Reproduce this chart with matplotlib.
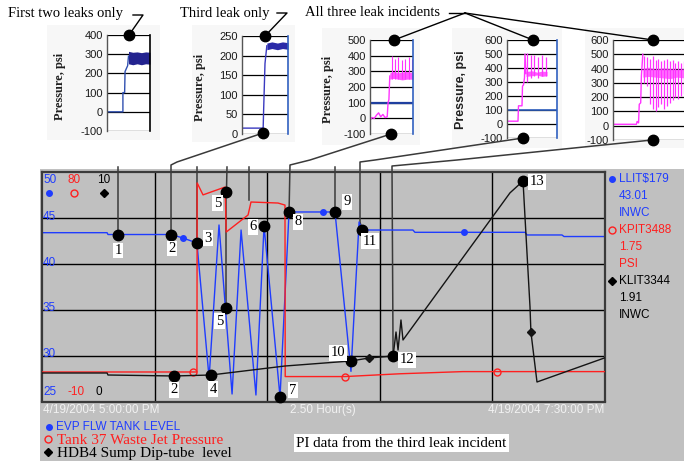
import numpy as np
import matplotlib
matplotlib.use("Agg")
import matplotlib.pyplot as plt
from matplotlib.patches import Rectangle
from matplotlib.lines import Line2D

W, H = 684, 461
SERIF = ["Liberation Serif", "DejaVu Serif"]
SANS = ["Liberation Sans", "DejaVu Sans"]
plt.rcParams["font.family"] = SANS
plt.rcParams["axes.unicode_minus"] = False

BLUE = "#1f3cff"
RED = "#ff1f1f"
MAG = "#ff33ff"
NAVY = "#23238f"

# ---------------- main PI trend (hours after 4/19/2004 5:00 PM) ----------------
blue_h = [0.0, 0.289, 0.293, 0.573, 0.626, 0.688, 0.742, 0.786, 0.844, 0.884, 0.950, 0.986,
          1.057, 1.097, 1.301, 1.372, 1.408, 1.421, 1.647, 1.656, 2.145, 2.154, 2.309, 2.318, 2.5]
blue_v = [43.43, 43.43, 43.23, 43.23, 42.85, 42.30, 27.57, 44.27, 25.82, 43.72, 25.71, 44.16,
          25.49, 45.69, 45.69, 28.29, 44.60, 43.72, 43.72, 43.47, 43.47, 43.18, 43.18, 43.01, 43.01]

red_h = [0.0, 0.688, 0.689, 0.715, 0.813, 0.818, 0.915, 0.928, 1.048, 1.079, 1.080, 1.345, 1.590, 1.869, 2.5]
red_v = [1.6, 1.6, 75.9, 71.2, 74.3, 56.6, 63.3, 68.4, 68.0, 67.2, -0.2, -0.2, 0.9, 1.75, 1.75]

black_h = [0.0, 0.289, 0.293, 0.586, 0.750, 1.079, 1.372, 1.452, 1.559, 1.572, 1.581, 1.594, 1.603,
           1.732, 2.078, 2.136, 2.145, 2.167, 2.171, 2.198, 2.5]
black_v = [1.245, 1.245, 1.157, 1.114, 1.157, 1.55, 1.769, 1.90, 1.987, 3.035, 2.249, 3.559, 2.686,
           4.432, 9.11, 9.63, 8.01, 4.127, 3.035, 0.852, 1.91]

blue_mark_h = [0.626, 1.248, 1.874]
red_mark_h = [0.671, 1.345, 2.02]
black_mark_h = [1.452, 2.171]

blue_range = (25, 50)
red_range = (-10, 80)
black_range = (0, 10)

# numbered incident call-outs on the trend
callout_labels = ["1", "2", "2", "3", "4", "5", "5", "6", "7", "8", "9", "10", "11", "12", "13"]
callout_series = ["b", "b", "k", "b", "k", "r", "b", "b", "b", "b", "b", "k", "b", "k", "k"]
callout_h = [0.3375, 0.573, 0.586, 0.688, 0.750, 0.819, 0.819, 0.986, 1.057, 1.097, 1.301, 1.372, 1.421, 1.559, 2.136]
callout_v = [43.23, 43.23, 1.114, 42.30, 1.157, 72.3, 35.2, 44.16, 25.49, 45.69, 45.69, 1.769, 43.72, 1.987, 9.63]

# ---------------- inset pressure traces (fraction of inset width) ----------------
ins1_t = [0, 0.37, 0.37, 0.41, 0.42, 0.45, 0.48, 0.50]
ins1_v = [0, 0, 100, 100, 210, 225, 240, 290]
ins1_bt = [0.50, 0.6, 0.7, 0.8, 0.9, 1.0]
ins1_lo = [250, 245, 250, 245, 250, 248]
ins1_hi = [315, 310, 312, 308, 312, 310]

ins2_t = [0, 0.46, 0.47, 0.50, 0.54]
ins2_v = [15, 15, 60, 180, 225]
ins2_bt = [0.54, 0.65, 0.77, 0.88, 1.0]
ins2_lo = [215, 218, 215, 218, 216]
ins2_hi = [232, 235, 232, 235, 233]

ins3_t = [0, 0.05, 0.1, 0.15, 0.2, 0.25, 0.3, 0.35, 0.4, 0.42, 0.44, 0.46]
ins3_v = [-10, 5, 0, 20, 35, 10, 25, 5, 10, 100, 120, 270]
ins3_bt = [0.46, 0.55, 0.65, 0.75, 0.85, 1.0]
ins3_lo = [250, 255, 250, 245, 250, 250]
ins3_hi = [290, 300, 290, 295, 300, 290]
ins3_st = [0.5, 0.58, 0.66, 0.74, 0.82, 0.9, 0.97]
ins3_top = [400, 380, 390, 370, 380, 390, 380]

ins4_t = [0, 0.22, 0.23, 0.30, 0.31, 0.33, 0.35, 0.36, 0.38]
ins4_v = [20, 20, 130, 130, 270, 280, 330, 500, 360]
ins4_bt = [0.38, 0.5, 0.6, 0.7, 0.8]
ins4_lo = [340, 345, 350, 340, 345]
ins4_hi = [375, 380, 370, 378, 375]
ins4_st = [0.40, 0.47, 0.54, 0.62, 0.70, 0.78]
ins4_top = [510, 490, 490, 480, 490, 480]
ins4_bot = [300, 330, 340, 330, 340, 340]

ins5_t = [0, 0.33, 0.34, 0.36, 0.37, 0.39, 0.40, 0.42]
ins5_v = [10, 10, 30, 20, 150, 160, 350, 500]
ins5_bt = [0.42, 0.5, 0.6, 0.7, 0.8, 0.9, 1.0]
ins5_lo = [340, 345, 340, 335, 330, 340, 335]
ins5_hi = [400, 410, 395, 405, 400, 395, 400]
ins5_st = [0.44, 0.48, 0.52, 0.56, 0.60, 0.64, 0.68, 0.72, 0.76, 0.80, 0.84, 0.88, 0.92, 0.96, 0.995]
ins5_top = [490, 480, 470, 490, 460, 470, 450, 460, 470, 450, 460, 440, 450, 440, 450]
ins5_bot = [300, 280, 150, 120, 100, 130, 150, 120, 140, 160, 180, 200, 190, 210, 220]

# ======================================================================
fig = plt.figure(figsize=(W / 100, H / 100), dpi=100)

bg = fig.add_axes([0, 0, 1, 1], zorder=-5)
bg.set_xlim(0, W); bg.set_ylim(H, 0); bg.axis("off")
bg.add_patch(Rectangle((40, 169), W - 40, H - 169, fc="#c0c0c0", ec="none"))
for (x0, y0, x1, y1) in [(47, 25, 160, 140), (192, 25, 295, 142), (322, 28, 420, 145),
                         (452, 28, 562, 148), (585, 28, 684, 148)]:
    bg.add_patch(Rectangle((x0, y0), x1 - x0, y1 - y0, fc="#f7f7f7", ec="none"))

ov = fig.add_axes([0, 0, 1, 1], zorder=10)
ov.set_xlim(0, W); ov.set_ylim(H, 0); ov.axis("off"); ov.patch.set_visible(False)

# ---- main axes ----
L, R, T, B = 42, 605, 172.5, 401.5
pos = [L / W, 1 - B / H, (R - L) / W, (B - T) / H]
ax_b = fig.add_axes(pos, zorder=1)
ax_b.set_facecolor("#c0c0c0")
ax_b.set_xlim(0, 2.5); ax_b.set_ylim(*blue_range)
ax_b.set_xticks([0.5, 1.0, 1.5, 2.0]); ax_b.set_yticks([30, 35, 40, 45])
ax_b.grid(True, color="black", lw=1.0)
ax_b.set_axisbelow(True)
ax_b.tick_params(length=0, labelbottom=False, labelleft=False)
for s in ax_b.spines.values():
    s.set_color("#3a3a3a"); s.set_linewidth(1.6)

ax_r = fig.add_axes(pos, zorder=2); ax_r.axis("off"); ax_r.patch.set_visible(False)
ax_r.set_xlim(0, 2.5); ax_r.set_ylim(*red_range)
ax_k = fig.add_axes(pos, zorder=3); ax_k.axis("off"); ax_k.patch.set_visible(False)
ax_k.set_xlim(0, 2.5); ax_k.set_ylim(*black_range)

ax_b.plot(blue_h, blue_v, color=BLUE, lw=1.0, zorder=2)
ax_b.plot(blue_mark_h, np.interp(blue_mark_h, blue_h, blue_v), "o", color=BLUE, ms=4, zorder=3)
ax_r.plot(red_h, red_v, color=RED, lw=1.0)
ax_r.plot(red_mark_h, np.interp(red_mark_h, red_h, red_v), "o", mfc="none", mec=RED, ms=5, mew=1)
ax_k.plot(black_h, black_v, color="#141414", lw=1.0)
ax_k.plot(black_mark_h, np.interp(black_mark_h, black_h, black_v), "D", color="#141414", ms=4)


def to_px(axx, h, v):
    d = axx.transData.transform((h, v))
    return ov.transData.inverted().transform(d)


series_ax = {"b": ax_b, "r": ax_r, "k": ax_k}
cpx = [to_px(series_ax[s], h, v) for s, h, v in zip(callout_series, callout_h, callout_v)]

# connectors from insets to call-outs (drawn under the trend lines)
CC = "#3a3a3a"
conn = [(0, [(118, 167)]), (1, [(263, 133), (177, 162), (171, 165)]), (3, [(197, 167)]),
        (5, [(227, 167)]), (9, [(391, 134), (310, 160), (290, 165)]), (10, [(335, 167)]),
        (12, [(523, 138), (375, 160), (360, 162), (360, 222)]),
        (13, [(652, 140), (457, 160), (392, 166)])]
paths = [path + [tuple(cpx[i])] for i, path in conn]
paths.append([tuple(cpx[5]), tuple(cpx[6])])
paths.append([(249, 167), (249, 200)])
for p in paths:
    xs, ys = zip(*p)
    ln = Line2D(xs, ys, color=CC, lw=1.1, transform=ov.transData, zorder=1.5)
    ln.set_clip_on(False)
    ax_b.add_line(ln)

offsets = [(0, 16), (1, 14), (0, 14), (11, -5), (2, 14), (-9, 11), (-7, 13), (-11, 1), (13, -7),
           (9, 10), (12, -10), (-13, -8), (8, 11), (14, 4), (14, 1)]
for lab, (X, Y), (dx, dy) in zip(callout_labels, cpx, offsets):
    ov.plot(X, Y, "o", color="black", ms=7.5, zorder=5)
    ov.text(X + dx, Y + dy, lab, family=SERIF, fontsize=10.5, ha="center", va="center", zorder=6,
            bbox=dict(boxstyle="square,pad=0.1", fc="white", ec="none"))

# ---- scale labels inside plot ----
for v in [45, 40, 35, 30]:
    X, Y = to_px(ax_b, 0, v)
    ov.text(43, Y - 1.5, str(v), color=BLUE, fontsize=8.5, ha="left", va="center")
ov.text(43, 180, "50", color=BLUE, fontsize=8.5, ha="left", va="center")
ov.text(68, 180, "80", color=RED, fontsize=8.5, ha="left", va="center")
ov.text(97, 180, "10", color="black", fontsize=8.5, ha="left", va="center")
ov.plot(49, 193, "o", color=BLUE, ms=4)
ov.plot(74, 193, "o", mfc="none", mec=RED, ms=5, mew=1)
ov.plot(104, 193, "D", color="black", ms=4)
ov.text(43, 392, "25", color=BLUE, fontsize=8.5, ha="left", va="center")
ov.text(67, 392, "-10", color=RED, fontsize=8.5, ha="left", va="center")
ov.text(96, 392, "0", color="black", fontsize=8.5, ha="left", va="center")

# time axis labels
TC = "#f2f2f2"
ov.text(43, 410, "4/19/2004 5:00:00 PM", color=TC, fontsize=8.5, ha="left", va="center")
ov.text(323, 410, "2.50 Hour(s)", color=TC, fontsize=8.5, ha="center", va="center")
ov.text(604, 410, "4/19/2004 7:30:00 PM", color=TC, fontsize=8.5, ha="right", va="center")

# right-hand value panel
ov.plot(612, 179, "o", color=BLUE, ms=4)
ov.text(619, 179, "LLIT$179", color=BLUE, fontsize=8.5, va="center")
ov.text(619, 196, "43.01", color=BLUE, fontsize=8.5, va="center")
ov.text(619, 213, "INWC", color=BLUE, fontsize=8.5, va="center")
ov.plot(612, 230, "o", mfc="none", mec=RED, ms=5, mew=1)
ov.text(619, 230, "KPIT3488", color=RED, fontsize=8.5, va="center")
ov.text(619, 247, "1.75", color=RED, fontsize=8.5, va="center")
ov.text(619, 264, "PSI", color=RED, fontsize=8.5, va="center")
ov.plot(612, 281, "D", color="black", ms=4)
ov.text(619, 281, "KLIT3344", color="black", fontsize=8.5, va="center")
ov.text(619, 298, "1.91", color="black", fontsize=8.5, va="center")
ov.text(619, 315, "INWC", color="black", fontsize=8.5, va="center")

# bottom legend
ov.plot(49, 427, "o", color=BLUE, ms=4)
ov.text(56, 427, "EVP FLW TANK LEVEL", color=BLUE, fontsize=8.5, va="center")
ov.plot(48, 439, "o", mfc="none", mec=RED, ms=5, mew=1)
ov.text(57, 440, "Tank 37 Waste Jet Pressure", color=RED, family=SERIF, fontsize=11, va="center")
ov.plot(48, 452, "D", color="black", ms=4)
ov.text(57, 453, "HDB4 Sump Dip-tube  level", color="black", family=SERIF, fontsize=11, va="center")
ov.text(296, 443, "PI data from the third leak incident", color="black", family=SERIF, fontsize=10.8,
        va="center", bbox=dict(boxstyle="square,pad=0.15", fc="white", ec="none"))


# ---- insets ----
def make_inset(x0, x1, ytop, ybot, ylim, step, right_color):
    a = fig.add_axes([x0 / W, 1 - ybot / H, (x1 - x0) / W, (ybot - ytop) / H], zorder=0.5)
    a.set_xlim(0, 1); a.set_ylim(*ylim)
    a.set_yticks(np.arange(ylim[0], ylim[1] + 1, step))
    a.set_xticks([])
    a.grid(axis="y", color="black", lw=0.9)
    a.set_axisbelow(True)
    a.tick_params(axis="y", length=0, pad=3, labelsize=8, labelcolor="#1a1a1a")
    a.spines["top"].set_visible(False)
    a.spines["bottom"].set_visible(False)
    a.spines["left"].set_color("#555555"); a.spines["left"].set_linewidth(1)
    if right_color is None:
        a.spines["right"].set_visible(False)
    else:
        a.spines["right"].set_color(right_color); a.spines["right"].set_linewidth(1.2)
    return a


a1 = make_inset(107, 150, 35, 131, (-100, 400), 100, "black")
a1.plot(ins1_t, ins1_v, color="#3050b0", lw=1)
a1.fill_between(ins1_bt, ins1_lo, ins1_hi, color=NAVY, lw=0)

a2 = make_inset(242, 288, 36, 134, (0, 250), 50, "#3060c0")
a2.plot(ins2_t, ins2_v, color="#3a3ac0", lw=1)
a2.fill_between(ins2_bt, ins2_lo, ins2_hi, color="#2a2aa8", lw=0)

a3 = make_inset(370, 413, 40, 134, (-100, 500), 100, "#3060c0")
a3.axhline(100, color="#1f3f9f", lw=1.6)
a3.plot(ins3_t, ins3_v, color=MAG, lw=1)
a3.fill_between(ins3_bt, ins3_lo, ins3_hi, color=MAG, lw=0, alpha=0.8)
a3.vlines(ins3_st, 250, ins3_top, color=MAG, lw=0.8)

a4 = make_inset(507, 557, 40, 138, (-100, 600), 100, "#3060c0")
a4.axhline(100, color="#3060c0", lw=1.2)
a4.plot(ins4_t, ins4_v, color=MAG, lw=1)
a4.fill_between(ins4_bt, ins4_lo, ins4_hi, color=MAG, lw=0, alpha=0.8)
a4.vlines(ins4_st, ins4_bot, ins4_top, color=MAG, lw=0.9)

a5 = make_inset(613, 684, 40, 140, (-100, 600), 100, None)
a5.plot(ins5_t, ins5_v, color=MAG, lw=1)
a5.fill_between(ins5_bt, ins5_lo, ins5_hi, color=MAG, lw=0, alpha=0.7)
a5.vlines(ins5_st, ins5_bot, ins5_top, color=MAG, lw=0.9)

for x, y, fam in [(60, 86, SERIF), (200, 87, SERIF), (328, 89, SERIF), (461, 90, SANS)]:
    ov.text(x, y, "Pressure, psi", rotation=90, family=fam, fontsize=9, fontweight="bold",
            ha="center", va="center", color="#202020")

# titles and pointer lines
ov.text(8, 13, "First two leaks only", family=SERIF, fontsize=10.5, va="center")
ov.text(180, 13, "Third leak only", family=SERIF, fontsize=10.5, va="center")
ov.text(305, 13, "All three leak incidents", family=SERIF, fontsize=10.5, va="center")
ov.plot([133, 143, 129], [15, 15, 35], color="black", lw=1)
ov.plot([277, 287, 265], [13, 13, 36], color="black", lw=1)
ov.plot([449, 465], [13, 13], color="black", lw=1)
for tx, ty in [(394, 40), (533, 40), (653, 40)]:
    ov.plot([465, tx], [13, ty], color="black", lw=1)

for x, y in [(129, 35), (265, 36), (394, 40), (533, 40), (653, 40),
             (263, 133), (391, 134), (523, 138), (653, 140)]:
    ov.plot(x, y, "o", color="black", ms=7.5)

fig.savefig("out.png", dpi=100)
